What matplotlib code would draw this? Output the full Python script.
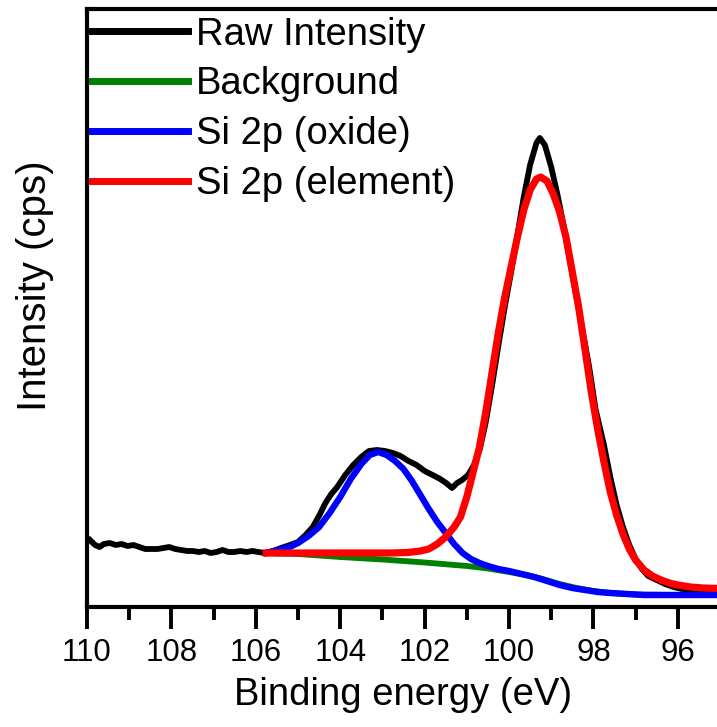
import matplotlib
matplotlib.use('Agg')
from matplotlib import pyplot as plt

plt.rcParams['font.family'] = ['Liberation Sans', 'DejaVu Sans']

# Binding energy (eV) and intensity (cps, arbitrary offset) for each trace
raw_be = [109.93, 109.81, 109.70, 109.60, 109.46, 109.32, 109.18, 109.04, 108.90, 108.76,
          108.62, 108.48, 108.33, 108.19, 108.05, 107.91, 107.77, 107.63, 107.49, 107.35,
          107.21, 107.07, 106.93, 106.79, 106.65, 106.51, 106.37, 106.22, 106.08, 105.94,
          105.80, 105.59, 105.40, 105.19, 105.00, 104.82, 104.65, 104.49, 104.35, 104.21,
          104.07, 103.88, 103.69, 103.50, 103.32, 103.13, 102.94, 102.75, 102.57, 102.38,
          102.19, 102.00, 101.81, 101.63, 101.49, 101.35, 101.23, 101.11, 100.97, 100.83,
          100.69, 100.55, 100.40, 100.25, 100.10, 99.95, 99.80, 99.65, 99.50, 99.35,
          99.27, 99.15, 99.00, 98.85, 98.70, 98.55, 98.40, 98.25, 98.10, 97.95,
          97.75, 97.60, 97.45, 97.30, 97.15, 97.00, 96.85, 96.70, 96.50, 96.30,
          96.10, 95.90, 95.50, 95.00]
raw_cps = [67, 62, 60, 63, 64, 62, 63, 61, 62, 60,
           58, 58, 58, 59, 60, 58, 57, 56, 56, 55,
           56, 54, 55, 57, 55, 55, 56, 55, 56, 55,
           54, 56, 59, 62, 65, 72, 80, 92, 104, 113,
           120, 132, 142, 150, 156, 157, 156, 154, 151, 146,
           142, 136, 132, 128, 124, 119, 124, 127, 132, 142,
           158, 185, 222, 262, 300, 335, 372, 410, 442, 464,
           469, 462, 440, 412, 380, 345, 310, 275, 240, 198,
           162, 130, 102, 80, 62, 48, 38, 31, 27, 23,
           20, 18, 17, 16]

bg_be = [105.75, 105.0, 104.0, 103.0, 102.0, 101.0, 100.5, 100.0, 99.6, 99.2,
         98.8, 98.4, 98.0, 97.6, 97.0, 96.0, 94.8]
bg_cps = [54, 53, 50, 47.5, 44.5, 41, 38.5, 35, 32, 28,
          23, 19, 16, 14, 12.5, 12, 12]

oxide_be = [105.75, 105.47, 105.2, 105.0, 104.75, 104.5, 104.25, 104.0, 103.75, 103.5,
            103.3, 103.1, 102.9, 102.7, 102.5, 102.3, 102.1, 101.9, 101.7, 101.5,
            101.3, 101.1, 100.9, 100.7, 100.5, 100.25, 100.0, 99.7, 99.4, 99.1,
            98.8, 98.5, 98.2, 97.9, 97.6, 97.2, 96.8, 96.4, 96.0, 95.5, 94.8]
oxide_cps = [54, 57, 60, 64, 71, 80, 94, 110, 128, 143,
             152, 155, 152, 146, 138, 126, 112, 98, 85, 74,
             63, 54, 48, 44, 41, 38, 36, 33, 30, 26,
             22, 19, 17, 15, 14, 13, 12, 12, 12, 12, 12]

elem_be = [105.75, 104.5, 103.5, 102.8, 102.4, 102.1, 101.9, 101.7, 101.5, 101.3,
           101.15, 101.0, 100.85, 100.7, 100.55, 100.4, 100.25, 100.1, 99.95, 99.8,
           99.65, 99.5, 99.35, 99.25, 99.1, 98.95, 98.8, 98.65, 98.5, 98.35,
           98.2, 98.05, 97.9, 97.75, 97.6, 97.45, 97.3, 97.15, 97.0, 96.8,
           96.6, 96.4, 96.2, 96.0, 95.7, 95.4, 95.0, 94.6]
elem_cps = [54, 54, 54, 54, 54.5, 56, 58, 63, 70, 80,
            90, 110, 135, 160, 195, 235, 275, 310, 340, 370,
            397, 417, 428, 430, 426, 413, 395, 370, 335, 300,
            258, 215, 178, 145, 115, 92, 73, 58, 47, 37,
            31, 27, 24, 22, 20, 19, 18.5, 18]

fig = plt.figure(figsize=(7.17, 7.27), dpi=100)
ax = fig.add_axes([87 / 717, 120 / 727, 633 / 717, 598 / 727])

ax.plot(raw_be, raw_cps, color='black', lw=4.2, label='Raw Intensity', zorder=2)
ax.plot(bg_be, bg_cps, color='green', lw=4.2, label='Background', zorder=3)
ax.plot(oxide_be, oxide_cps, color='blue', lw=4.6, label='Si 2p (oxide)', zorder=4)
ax.plot(elem_be, elem_cps, color='red', lw=5.2, label='Si 2p (element)', zorder=5)

ax.set_xlim(110, 95.15)
ax.set_ylim(0, 598)
ax.set_xticks([110, 108, 106, 104, 102, 100, 98, 96])
ax.set_xticks(range(95, 111), minor=True)
ax.set_yticks([])

for s in ax.spines.values():
    s.set_linewidth(3)
ax.tick_params(axis='x', which='major', direction='out', length=16, width=2.8,
               labelsize=22.5, pad=6)
ax.tick_params(axis='x', which='minor', direction='out', length=9.5, width=2.8)

ax.set_xlabel('Binding energy (eV)', fontsize=27.5, labelpad=7)
ax.set_ylabel('Intensity (cps)', fontsize=29)
ax.yaxis.set_label_coords(-0.052, 0.538)

leg = ax.legend(loc='upper left', frameon=False, fontsize=27.5, handlelength=2.5,
                handletextpad=0.21, labelspacing=0.36, borderpad=0.2,
                borderaxespad=0.0, bbox_to_anchor=(-0.004, 1.0))
for h in leg.get_lines():
    h.set_linewidth(5)

fig.savefig('out.png', dpi=100)
